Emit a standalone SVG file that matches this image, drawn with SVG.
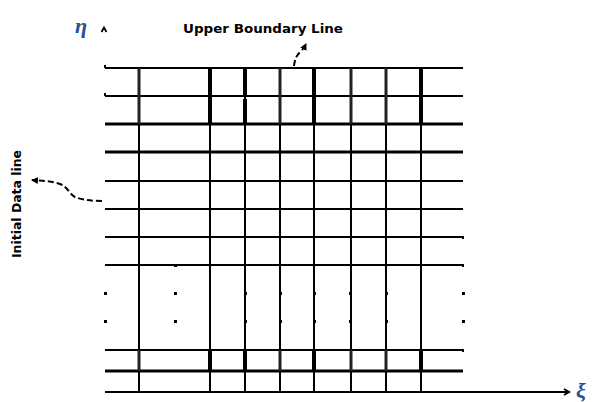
<svg xmlns="http://www.w3.org/2000/svg" width="595" height="402" viewBox="0 0 595 402">
  <style>
    .h { stroke: #000; stroke-width: 2; fill: none; }
    .hb { stroke: #000; stroke-width: 3; fill: none; }
    .v { stroke: #000; stroke-width: 2; fill: none; }
    .vk { stroke: #000; stroke-width: 4; fill: none; }
    .vm { stroke: #222; stroke-width: 3; fill: none; }
    .dot { fill: #000; }
    .lbl { font-family: "DejaVu Sans", "Liberation Sans", sans-serif; font-weight: bold; font-size: 13px; fill: #000; }
    .sym { font-family: "Liberation Serif", "DejaVu Serif", serif; font-style: italic; font-weight: bold; font-size: 22px; fill: #2a4f9a; }
    .dash { stroke: #000; stroke-width: 2; fill: none; stroke-dasharray: 6 3; }
  </style>
  <defs>
    <marker id="open" markerWidth="8" markerHeight="8" refX="6" refY="4" orient="auto" markerUnits="userSpaceOnUse">
      <path d="M1,1 L6,4 L1,7" stroke="#000" stroke-width="2" fill="none"/>
    </marker>
    <marker id="head" markerWidth="8" markerHeight="8" refX="6" refY="4" orient="auto" markerUnits="userSpaceOnUse">
      <path d="M0,0.5 L7,4 L0,7.5 Z" fill="#000"/>
    </marker>
  </defs>

  <!-- grid: horizontal grid lines -->
  <g id="grid-rows">
    <line class="h" x1="105" y1="68" x2="463" y2="68"/>
    <line class="h" x1="105" y1="96" x2="463" y2="96"/>
    <line class="hb" x1="105" y1="124" x2="463" y2="124"/>
    <line class="hb" x1="105" y1="152" x2="463" y2="152"/>
    <line class="h" x1="105" y1="181" x2="463" y2="181"/>
    <line class="h" x1="105" y1="209" x2="463" y2="209"/>
    <line class="h" x1="105" y1="237" x2="463" y2="237"/>
    <line class="h" x1="105" y1="265" x2="463" y2="265"/>
    <line class="h" x1="105" y1="350" x2="463" y2="350"/>
    <line class="hb" x1="105" y1="371" x2="463" y2="371"/>
  </g>

  <!-- grid: vertical grid lines -->
  <g id="grid-columns">
    <line class="v" x1="139" y1="68" x2="139" y2="392"/>
    <line class="v" x1="210" y1="68" x2="210" y2="392"/>
    <line class="v" x1="245" y1="68" x2="245" y2="392"/>
    <line class="v" x1="280" y1="68" x2="280" y2="392"/>
    <line class="v" x1="314" y1="68" x2="314" y2="392"/>
    <line class="v" x1="351" y1="68" x2="351" y2="392"/>
    <line class="v" x1="386" y1="68" x2="386" y2="392"/>
    <line class="v" x1="421" y1="68" x2="421" y2="392"/>
    <!-- heavier segments near the upper boundary -->
    <line class="vk" x1="210" y1="68" x2="210" y2="124"/>
    <line class="vk" x1="245" y1="68" x2="245" y2="96"/>
    <line class="vk" x1="245" y1="99" x2="245" y2="124"/>
    <line class="vk" x1="314" y1="68" x2="314" y2="124"/>
    <line class="vk" x1="421" y1="68" x2="421" y2="124"/>
    <line class="vm" x1="139" y1="68" x2="139" y2="124"/>
    <line class="vm" x1="280" y1="68" x2="280" y2="124"/>
    <line class="vm" x1="351" y1="68" x2="351" y2="124"/>
    <line class="vm" x1="386" y1="68" x2="386" y2="124"/>
    <!-- heavier segments near the lower boundary -->
    <line class="vk" x1="210" y1="350" x2="210" y2="371"/>
    <line class="vk" x1="245" y1="350" x2="245" y2="371"/>
    <line class="vk" x1="314" y1="350" x2="314" y2="371"/>
    <line class="vk" x1="421" y1="350" x2="421" y2="371"/>
    <line class="vm" x1="139" y1="350" x2="139" y2="371"/>
    <line class="vm" x1="280" y1="350" x2="280" y2="371"/>
    <line class="vm" x1="351" y1="350" x2="351" y2="371"/>
    <line class="vm" x1="386" y1="350" x2="386" y2="371"/>
  </g>

  <!-- grid points -->
  <g id="grid-points">
    <rect class="dot" x="104" y="65" width="2" height="3"/>
    <rect class="dot" x="104" y="93" width="2" height="3"/>
    <rect class="dot" x="104" y="292" width="3" height="3"/>
    <rect class="dot" x="104" y="320" width="3" height="3"/>
    <rect class="dot" x="174" y="180" width="3" height="2"/>
    <rect class="dot" x="174" y="208" width="3" height="2"/>
    <rect class="dot" x="174" y="236" width="3" height="2"/>
    <rect class="dot" x="174" y="264" width="3" height="3"/>
    <rect class="dot" x="174" y="292" width="3" height="3"/>
    <rect class="dot" x="174" y="320" width="3" height="3"/>
    <rect class="dot" x="174" y="349" width="3" height="2"/>
    <rect class="dot" x="174" y="391" width="3" height="2"/>
    <rect class="dot" x="245" y="292" width="2" height="3"/>
    <rect class="dot" x="245" y="320" width="2" height="3"/>
    <rect class="dot" x="280" y="292" width="2" height="3"/>
    <rect class="dot" x="280" y="320" width="2" height="3"/>
    <rect class="dot" x="314" y="292" width="2" height="3"/>
    <rect class="dot" x="314" y="320" width="2" height="3"/>
    <rect class="dot" x="349" y="292" width="2" height="3"/>
    <rect class="dot" x="349" y="320" width="2" height="3"/>
    <rect class="dot" x="386" y="292" width="2" height="3"/>
    <rect class="dot" x="386" y="320" width="2" height="3"/>
    <rect class="dot" x="462" y="236" width="2" height="3"/>
    <rect class="dot" x="462" y="264" width="2" height="3"/>
    <rect class="dot" x="462" y="292" width="3" height="3"/>
    <rect class="dot" x="462" y="320" width="3" height="3"/>
    <rect class="dot" x="462" y="349" width="2" height="3"/>
  </g>

  <!-- axes -->
  <g id="xi-axis">
    <line x1="105" y1="392" x2="569" y2="392" stroke="#000" stroke-width="2" marker-end="url(#open)"/>
    <text class="sym" x="576" y="398">ξ</text>
  </g>
  <g id="eta-axis">
    <path d="M101.5,32 L104,27.5 L106.5,32" stroke="#000" stroke-width="1.8" fill="none"/>
    <text class="sym" x="75" y="33">η</text>
  </g>

  <!-- labels -->
  <g id="upper-boundary-label">
    <text class="lbl" x="183" y="33" textLength="160" lengthAdjust="spacingAndGlyphs">Upper Boundary Line</text>
  </g>
  <g id="initial-data-label">
    <text class="lbl" transform="translate(21,258) rotate(-90)" x="0" y="0" textLength="108" lengthAdjust="spacingAndGlyphs">Initial Data line</text>
  </g>

  <!-- leader arrows -->
  <g id="connectors">
    <path class="dash" d="M294,66 C295,58 297,55 301,51 C304,48 305,46 306,44" marker-end="url(#head)"/>
    <path class="dash" d="M102,201 C92,201 82,200 75,197 C69,194 68,187 60,184 C52,181 42,181 32,180" marker-end="url(#head)"/>
  </g>
</svg>
